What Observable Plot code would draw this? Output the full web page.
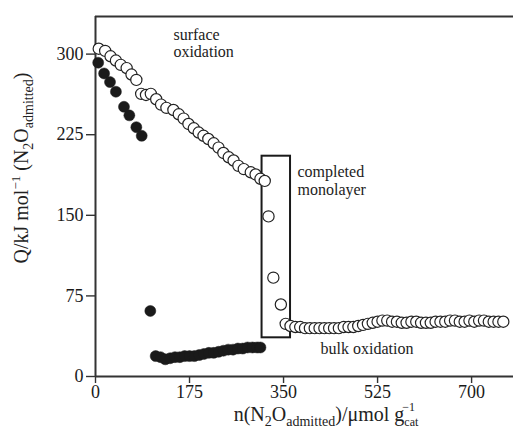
<!DOCTYPE html>
<html><head><meta charset="utf-8">
<script src="https://cdn.jsdelivr.net/npm/d3@7"></script>
<script src="https://cdn.jsdelivr.net/npm/@observablehq/plot@0.6"></script>
<style>
body{margin:0;background:#fff}
svg, svg text{font-family:"Liberation Serif","Tinos","Times New Roman","DejaVu Serif",serif !important}
</style>
</head><body><div id="chart"></div>
<script>
// Open circles: surface oxidation + monolayer transition
const surfaceX = [6,18,28,38,47,58,67,76,85,94,103,113,122,132,145,155,164,173,183,192,201,210,220,229,238,248,257,266,276,289,298,307,315,322,331,345];
const surfaceQ = [305,303,298,294,290,287,281,276,263,262,263,258,253,250,248,244,240,235,231,227,224,221,217,213,208,204,201,196,193,190,188,184,182,149,92,67];
// Open circles: bulk oxidation
const bulkX = [354,363,372,381,390,399,408,417,426,435,444,453,462,471,480,489,498,507,516,525,534,543,552,561,570,579,588,597,606,615,624,633,642,651,660,669,678,687,696,705,714,723,732,741,750,759];
const bulkQ = [49,47,46,46,45,45,45,45,45,45,45,45,46,46,46,47,48,49,50,51,52,52,51,51,50,50,51,51,50,50,50,51,51,51,52,52,51,51,52,51,52,52,51,51,51,51];
// Filled circles
const filledX = [5,16,27,38,53,63,76,86,102];
const filledQ = [292,282,274,265,251,243,232,224,61];
const lowX = [112,121,130,139,148,157,166,175,184,193,202,211,220,229,238,247,256,265,274,283,292,301,307];
const lowQ = [19,18,16,17,18,18,19,19,19,20,21,22,22,23,24,25,25,26,26,27,27,27,27];
// Monolayer box
const boxX = [310, 363];
const boxQ = [36, 205];
// Ticks
const xTicks = [0,175,350,525,700];
const yTicks = [0,75,150,225,300];
// Annotations
const notes = [
  {x:145, y:318, t:"surface"},
  {x:145, y:302, t:"oxidation"},
  {x:376, y:190, t:"completed"},
  {x:376, y:174, t:"monolayer"},
  {x:419, y:26,  t:"bulk oxidation"}
];

const openPts = surfaceX.map((x,i)=>({x, q:surfaceQ[i]})).concat(bulkX.map((x,i)=>({x, q:bulkQ[i]})));
const filledPts = filledX.map((x,i)=>({x, q:filledQ[i]})).concat(lowX.map((x,i)=>({x, q:lowQ[i]})));

const ink = "#1a1a1a";
const serif = '"Liberation Serif","Tinos","Times New Roman","DejaVu Serif",serif';
const svg = Plot.plot({
  width: 513, height: 439,
  marginLeft: 95, marginRight: 0, marginTop: 16, marginBottom: 63,
  style: {fontFamily: serif, color: ink, background: "#fff"},
  x: {domain: [0, 778]},
  y: {domain: [0, 335]},
  marks: [
    Plot.ruleY([0, 335], {stroke: "#333", strokeWidth: 2}),
    Plot.ruleX([0], {stroke: "#333", strokeWidth: 2}),
    Plot.axisX({ticks: xTicks, tickSize: 7, tickPadding: 2, fontSize: 18, label: null, stroke: "#333", strokeWidth: 1.4, tickFormat: d=>String(d)}),
    Plot.axisY({ticks: yTicks, tickSize: 9, tickPadding: 3, fontSize: 18, label: null, stroke: "#333", strokeWidth: 1.4, tickFormat: d=>String(d)}),
    Plot.rect([{x1: boxX[0], x2: boxX[1], y1: boxQ[0], y2: boxQ[1]}], {x1:"x1", x2:"x2", y1:"y1", y2:"y2", fill: "none", stroke: ink, strokeWidth: 2}),
    Plot.dot(filledPts, {x:"x", y:"q", r: 5.5, fill: ink, stroke: ink, strokeWidth: 0.5}),
    Plot.dot(openPts, {x:"x", y:"q", r: 5.6, fill: "white", stroke: "#222", strokeWidth: 1.2}),
    Plot.text(notes, {x:"x", y:"y", text:"t", textAnchor:"start", fontSize: 16, fill: "#222"})
  ]
});
document.getElementById("chart").appendChild(svg);

const s = d3.select(svg);
s.attr("font-family", serif);
// Y axis label
const yl = s.append("text")
  .attr("transform", "translate(28,168) rotate(-90)")
  .attr("text-anchor", "middle")
  .attr("font-size", 20).attr("fill", "#222");
yl.append("tspan").text("Q/kJ mol");
yl.append("tspan").attr("font-size", 13).attr("dy", -8).text("\u22121");
yl.append("tspan").attr("dy", 8).text(" (N");
yl.append("tspan").attr("font-size", 14).attr("dy", 5).text("2");
yl.append("tspan").attr("dy", -5).text("O");
yl.append("tspan").attr("font-size", 14).attr("dy", 5).text("admitted");
yl.append("tspan").attr("dy", -5).text(")");

// X axis label
const xl = s.append("text")
  .attr("transform", "translate(326,421)")
  .attr("text-anchor", "middle")
  .attr("font-size", 20).attr("fill", "#222");
xl.append("tspan").text("n(N");
xl.append("tspan").attr("font-size", 14).attr("dy", 5).text("2");
xl.append("tspan").attr("dy", -5).text("O");
xl.append("tspan").attr("font-size", 14).attr("dy", 5).text("admitted");
xl.append("tspan").attr("dy", -5).text(")/\u03bcmol g");
xl.append("tspan").attr("font-size", 12).attr("dy", 5).text("cat");
xl.append("tspan").attr("font-size", 12).attr("dy", -15).attr("dx", -16).text("\u22121");
</script>
</body></html>
